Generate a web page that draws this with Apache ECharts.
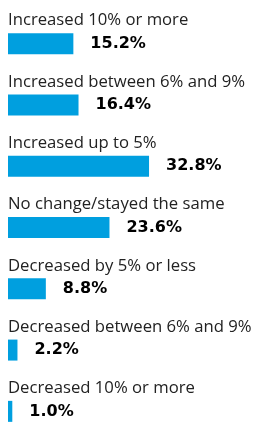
<!DOCTYPE html>
<html>
<head>
<meta charset="utf-8">
<script src="https://cdn.jsdelivr.net/npm/echarts@6/dist/echarts.min.js"></script>
<style>
  html, body { margin: 0; padding: 0; background: #fff; }
  #chart { width: 254px; height: 422px; }
</style>
</head>
<body>
<div id="chart"></div>
<script>
// categories, top to bottom
var categories = [
	'Increased 10% or more',
	'Increased between 6% and 9%',
	'Increased up to 5%',
	'No change/stayed the same',
	'Decreased by 5% or less',
	'Decreased between 6% and 9%',
	'Decreased 10% or more'
];
var values = [15.2, 16.4, 32.8, 23.6, 8.8, 2.2, 1.0];

var barColor = '#009fdf';

var chart = echarts.init(document.getElementById('chart'));

var option = {
	animation: false,
	grid: {
		left: 8,
		top: 13,
		width: 430,
		height: 429,
		outerBoundsMode: 'none',
		containLabel: false
	},
	xAxis: {
		type: 'value',
		min: 0,
		max: 100,
		show: false
	},
	yAxis: {
		type: 'category',
		data: categories,
		inverse: true,
		show: false
	},
	series: [
		{
			// the visible bars + percent label
			type: 'bar',
			data: values,
			barWidth: 21,
			itemStyle: { color: barColor },
			label: {
				show: true,
				position: 'right',
				distance: 17,
				fontFamily: 'DejaVu Sans',
				fontWeight: 'bold',
				fontSize: 16,
				color: '#000',
				formatter: function (p) { return p.value.toFixed(1) + '%'; }
			}
		},
		{
			// invisible copy, only carries the category name above each bar
			type: 'bar',
			data: values,
			barWidth: 21,
			barGap: '-100%',
			itemStyle: { color: 'rgba(0,0,0,0)' },
			silent: true,
			label: {
				show: true,
				position: [0, -4],
				align: 'left',
				verticalAlign: 'bottom',
				fontFamily: 'Open Sans',
				fontSize: 16.7,
				color: '#222',
				formatter: '{b}'
			}
		}
	]
};

chart.setOption(option);
</script>
</body>
</html>
